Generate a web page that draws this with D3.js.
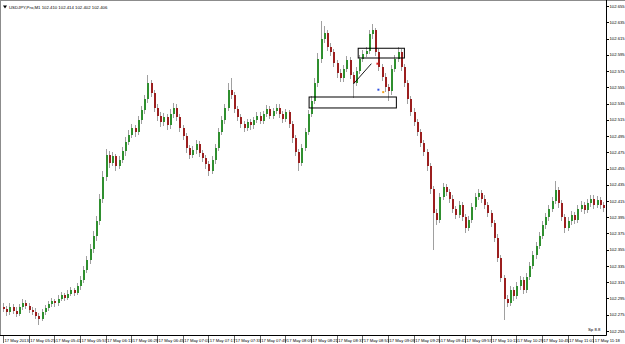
<!DOCTYPE html>
<html>
<head>
<meta charset="utf-8">
<script src="https://cdn.jsdelivr.net/npm/d3@7"></script>
<style>
  body { margin: 0; background: #fff; }
  text { font-family: "Liberation Sans", Arial, sans-serif; fill: #000; }
</style>
</head>
<body>
<div id="chart"></div>
<script>
// Data (USDJPY M1)
const symbol = "USDJPY,Pro,M1";
const spreadLabel = "Sp 8.8";

const opens = [
  102.285,102.282,102.278,102.285,102.280,102.276,102.284,102.290,102.286,102.281,
  102.279,102.274,102.270,102.278,102.283,102.288,102.292,102.289,102.295,102.299,
  102.296,102.301,102.305,102.302,102.310,102.318,102.330,102.342,102.356,102.372,
  102.390,102.418,102.445,102.472,102.462,102.470,102.458,102.466,102.476,102.488,
  102.496,102.505,102.500,102.515,102.527,102.540,102.560,102.548,102.530,102.520,
  102.512,102.518,102.508,102.522,102.530,102.518,102.505,102.495,102.480,102.472,
  102.478,102.485,102.474,102.468,102.460,102.452,102.466,102.480,102.500,102.515,
  102.530,102.552,102.545,102.528,102.518,102.510,102.505,102.512,102.508,102.515,
  102.520,102.514,102.522,102.528,102.520,102.526,102.530,102.522,102.516,102.524,
  102.510,102.492,102.475,102.462,102.480,102.500,102.522,102.538,102.560,102.590,
  102.615,102.622,102.605,102.598,102.585,102.572,102.566,102.578,102.588,102.570,
  102.560,102.575,102.590,102.596,102.600,102.620,102.625,102.598,102.580,102.568,
  102.555,102.550,102.578,102.590,102.598,102.580,102.560,102.540,102.525,102.512,
  102.500,102.486,102.475,102.458,102.430,102.400,102.392,102.420,102.432,102.426,
  102.418,102.405,102.398,102.410,102.395,102.382,102.392,102.408,102.420,102.425,
  102.418,102.410,102.400,102.388,102.370,102.345,102.320,102.295,102.290,102.305,
  102.298,102.310,102.318,102.306,102.322,102.335,102.348,102.360,102.372,102.385,
  102.395,102.405,102.415,102.428,102.412,102.395,102.382,102.390,102.398,102.392,
  102.405,102.410,102.404,102.412,102.418,102.410,102.416,102.410
];
const highs = [
  102.289,102.286,102.290,102.288,102.284,102.288,102.295,102.293,102.290,102.285,
  102.283,102.277,102.282,102.287,102.292,102.296,102.295,102.299,102.303,102.302,
  102.305,102.309,102.308,102.314,102.323,102.335,102.347,102.362,102.378,102.396,
  102.424,102.452,102.479,102.476,102.475,102.473,102.471,102.481,102.494,102.502,
  102.510,102.509,102.520,102.532,102.546,102.570,102.564,102.552,102.535,102.524,
  102.523,102.522,102.528,102.536,102.534,102.522,102.509,102.499,102.484,102.483,
  102.490,102.489,102.478,102.472,102.464,102.471,102.485,102.505,102.520,102.535,
  102.560,102.566,102.549,102.532,102.522,102.514,102.516,102.516,102.519,102.525,
  102.524,102.526,102.533,102.532,102.530,102.535,102.534,102.526,102.528,102.527,
  102.514,102.496,102.479,102.485,102.505,102.527,102.544,102.566,102.597,102.636,
  102.630,102.626,102.610,102.602,102.589,102.577,102.583,102.593,102.592,102.574,
  102.580,102.595,102.601,102.605,102.626,102.633,102.628,102.602,102.584,102.572,
  102.559,102.583,102.595,102.604,102.602,102.584,102.564,102.544,102.529,102.516,
  102.504,102.490,102.479,102.462,102.434,102.405,102.425,102.437,102.436,102.430,
  102.422,102.409,102.415,102.414,102.399,102.397,102.413,102.425,102.430,102.429,
  102.422,102.414,102.404,102.392,102.374,102.349,102.324,102.299,102.310,102.309,
  102.315,102.323,102.322,102.327,102.340,102.353,102.365,102.377,102.390,102.400,
  102.410,102.420,102.440,102.432,102.416,102.399,102.395,102.403,102.402,102.410,
  102.415,102.414,102.417,102.423,102.422,102.421,102.420,102.414
];
const lows = [
  102.278,102.274,102.275,102.276,102.272,102.273,102.281,102.282,102.277,102.275,
  102.270,102.262,102.267,102.275,102.280,102.285,102.285,102.286,102.292,102.292,
  102.293,102.298,102.298,102.299,102.306,102.314,102.326,102.338,102.351,102.366,
  102.385,102.412,102.440,102.456,102.458,102.452,102.454,102.462,102.471,102.484,
  102.492,102.494,102.496,102.510,102.522,102.536,102.543,102.525,102.514,102.506,
  102.507,102.503,102.504,102.517,102.513,102.500,102.490,102.474,102.467,102.468,
  102.473,102.469,102.463,102.455,102.446,102.448,102.461,102.476,102.496,102.510,
  102.526,102.540,102.523,102.513,102.505,102.500,102.501,102.503,102.504,102.511,
  102.510,102.510,102.518,102.516,102.516,102.522,102.517,102.511,102.512,102.505,
  102.487,102.470,102.452,102.458,102.476,102.496,102.518,102.534,102.555,102.585,
  102.610,102.600,102.593,102.580,102.567,102.561,102.562,102.574,102.565,102.542,
  102.556,102.571,102.586,102.592,102.596,102.615,102.593,102.575,102.563,102.549,
  102.538,102.546,102.574,102.586,102.575,102.555,102.535,102.520,102.507,102.495,
  102.481,102.470,102.452,102.424,102.355,102.386,102.388,102.416,102.421,102.413,
  102.400,102.393,102.394,102.390,102.376,102.378,102.388,102.404,102.416,102.413,
  102.405,102.395,102.383,102.365,102.340,102.315,102.268,102.284,102.286,102.292,
  102.294,102.306,102.301,102.302,102.318,102.331,102.344,102.356,102.368,102.381,
  102.391,102.401,102.411,102.407,102.390,102.376,102.378,102.386,102.387,102.388,
  102.401,102.399,102.400,102.408,102.405,102.406,102.405,102.402
];
const closes = [
  102.282,102.278,102.285,102.280,102.276,102.284,102.290,102.286,102.281,102.279,
  102.274,102.270,102.278,102.283,102.288,102.292,102.289,102.295,102.299,102.296,
  102.301,102.305,102.302,102.310,102.318,102.330,102.342,102.356,102.372,102.390,
  102.418,102.445,102.472,102.462,102.470,102.458,102.466,102.476,102.488,102.496,
  102.505,102.500,102.515,102.527,102.540,102.560,102.548,102.530,102.520,102.512,
  102.518,102.508,102.522,102.530,102.518,102.505,102.495,102.480,102.472,102.478,
  102.485,102.474,102.468,102.460,102.452,102.466,102.480,102.500,102.515,102.530,
  102.552,102.545,102.528,102.518,102.510,102.505,102.512,102.508,102.515,102.520,
  102.514,102.522,102.528,102.520,102.526,102.530,102.522,102.516,102.524,102.510,
  102.492,102.475,102.462,102.480,102.500,102.522,102.538,102.560,102.590,102.615,
  102.622,102.605,102.598,102.585,102.572,102.566,102.578,102.588,102.570,102.560,
  102.575,102.590,102.596,102.600,102.620,102.625,102.598,102.580,102.568,102.555,
  102.550,102.578,102.590,102.598,102.580,102.560,102.540,102.525,102.512,102.500,
  102.486,102.475,102.458,102.430,102.400,102.392,102.420,102.432,102.426,102.418,
  102.405,102.398,102.410,102.395,102.382,102.392,102.408,102.420,102.425,102.418,
  102.410,102.400,102.388,102.370,102.345,102.320,102.295,102.290,102.305,102.298,
  102.310,102.318,102.306,102.322,102.335,102.348,102.360,102.372,102.385,102.395,
  102.405,102.415,102.428,102.412,102.395,102.382,102.390,102.398,102.392,102.405,
  102.410,102.404,102.412,102.418,102.410,102.416,102.410,102.406
];

const priceTicks = [
  102.655,102.635,102.615,102.595,102.575,102.555,102.535,102.515,102.495,102.475,102.455,
  102.435,102.415,102.395,102.375,102.355,102.335,102.315,102.295,102.275,102.255
];
const timeLabels = [
  "17 May 2013","17 May 05:25","17 May 05:41","17 May 05:57","17 May 06:13","17 May 06:29",
  "17 May 06:45","17 May 07:01","17 May 07:17","17 May 07:33","17 May 07:49","17 May 08:05",
  "17 May 08:21","17 May 08:37","17 May 08:53","17 May 09:09","17 May 09:25","17 May 09:41",
  "17 May 09:57","17 May 10:13","17 May 10:29","17 May 10:45","17 May 11:01","17 May 11:18"
];
const barsPerLabel = 8;

// hand drawn objects on the chart (bar index, price)
const rectangles = [
  { i0: 95.4, i1: 122.6, p0: 102.543, p1: 102.5295 },
  { i0: 110.7, i1: 125.1, p0: 102.603, p1: 102.591 }
];
const trendLines = [
  { i0: 109.2, p0: 102.559, i1: 114.8, p1: 102.584 }
];
const markers = [
  { i: 116.7, p: 102.584, color: "#e02020" },
  { i: 117.0, p: 102.552, color: "#3050e0" },
  { i: 118.5, p: 102.549, color: "#f0a020" }
];

// Layout
const width = 625, height = 344;
const plotRight = 606.5, plotBottom = 335.5;

const svg = d3.select("#chart").append("svg")
  .attr("width", width)
  .attr("height", height)
  .style("display", "block");

svg.append("rect").attr("width", width).attr("height", height).attr("fill", "#fff");

const bars = closes.map((c, i) => ({ i: i, o: opens[i], h: highs[i], l: lows[i], c: c }));

const x = d3.scaleLinear().domain([0, bars.length - 1]).range([3, 603]);
const y = d3.scaleLinear().domain([102.255, 102.655]).range([331, 6]);

// frame
svg.append("line").attr("x1", 0).attr("x2", width).attr("y1", 0.5).attr("y2", 0.5).attr("stroke", "#8c8c8c");
svg.append("line").attr("x1", 0.5).attr("x2", 0.5).attr("y1", 0).attr("y2", plotBottom).attr("stroke", "#8c8c8c");
svg.append("line").attr("x1", plotRight).attr("x2", plotRight).attr("y1", 0).attr("y2", plotBottom).attr("stroke", "#000");
svg.append("line").attr("x1", 0).attr("x2", plotRight).attr("y1", plotBottom).attr("y2", plotBottom).attr("stroke", "#000");

// Candles
const candles = svg.append("g").attr("shape-rendering", "crispEdges");

candles.selectAll(".wick")
  .data(bars)
  .enter().append("line")
    .attr("class", "wick")
    .attr("x1", d => Math.round(x(d.i)) + 0.5)
    .attr("x2", d => Math.round(x(d.i)) + 0.5)
    .attr("y1", d => y(d.h))
    .attr("y2", d => y(d.l))
    .attr("stroke", "#a0a0a0");

candles.selectAll(".body")
  .data(bars)
  .enter().append("rect")
    .attr("class", "body")
    .attr("x", d => Math.round(x(d.i)) - 0.5)
    .attr("width", 2)
    .attr("y", d => y(Math.max(d.o, d.c)))
    .attr("height", d => Math.max(1, Math.abs(y(d.o) - y(d.c))))
    .attr("fill", d => d.c > d.o ? "#2f8f2f" : (d.c < d.o ? "#9b1f1f" : "#a0a0a0"));

// Objects
const objs = svg.append("g");
objs.selectAll(".box")
  .data(rectangles)
  .enter().append("rect")
    .attr("x", d => x(d.i0))
    .attr("y", d => y(d.p0))
    .attr("width", d => x(d.i1) - x(d.i0))
    .attr("height", d => y(d.p1) - y(d.p0))
    .attr("fill", "none")
    .attr("stroke", "#000")
    .attr("stroke-width", 1);

objs.selectAll(".tl")
  .data(trendLines)
  .enter().append("line")
    .attr("x1", d => x(d.i0)).attr("y1", d => y(d.p0))
    .attr("x2", d => x(d.i1)).attr("y2", d => y(d.p1))
    .attr("stroke", "#000")
    .attr("stroke-width", 0.9);

objs.selectAll(".mk")
  .data(markers)
  .enter().append("rect")
    .attr("x", d => x(d.i) - 1)
    .attr("y", d => y(d.p) - 1)
    .attr("width", 2)
    .attr("height", 2)
    .attr("fill", d => d.color);

// Price axis
const pAxis = svg.append("g");
pAxis.selectAll("line")
  .data(priceTicks)
  .enter().append("line")
    .attr("x1", plotRight).attr("x2", plotRight + 2.5)
    .attr("y1", d => Math.round(y(d)) + 0.5).attr("y2", d => Math.round(y(d)) + 0.5)
    .attr("stroke", "#000");
pAxis.selectAll("text")
  .data(priceTicks)
  .enter().append("text")
    .attr("x", 609.5)
    .attr("y", d => y(d) + 1.5)
    .attr("font-size", 4.2)
    .text(d => d.toFixed(3));

// Time axis
const tAxis = svg.append("g");
const tData = timeLabels.map((t, k) => ({ t: t, i: k * barsPerLabel }));
tAxis.selectAll("line")
  .data(tData)
  .enter().append("line")
    .attr("x1", d => Math.round(x(d.i)) + 0.5).attr("x2", d => Math.round(x(d.i)) + 0.5)
    .attr("y1", plotBottom).attr("y2", 343)
    .attr("stroke", "#000")
    .attr("stroke-width", 0.6);
tAxis.selectAll("text")
  .data(tData)
  .enter().append("text")
    .attr("x", d => x(d.i) + 1.5)
    .attr("y", 341.5)
    .attr("font-size", 4.2)
    .text(d => d.t);

// Header
const last = bars[bars.length - 1];
svg.append("path").attr("d", "M3,5.5 L7,5.5 L5,8.5 Z").attr("fill", "#000");
svg.append("text")
  .attr("x", 9)
  .attr("y", 9)
  .attr("font-size", 4.3)
  .text(symbol + "  " + [last.o, last.h, last.l, last.c].map(v => v.toFixed(3)).join(" "));

svg.append("text")
  .attr("x", 588)
  .attr("y", 331)
  .attr("font-size", 4.3)
  .text(spreadLabel);
</script>
</body>
</html>
